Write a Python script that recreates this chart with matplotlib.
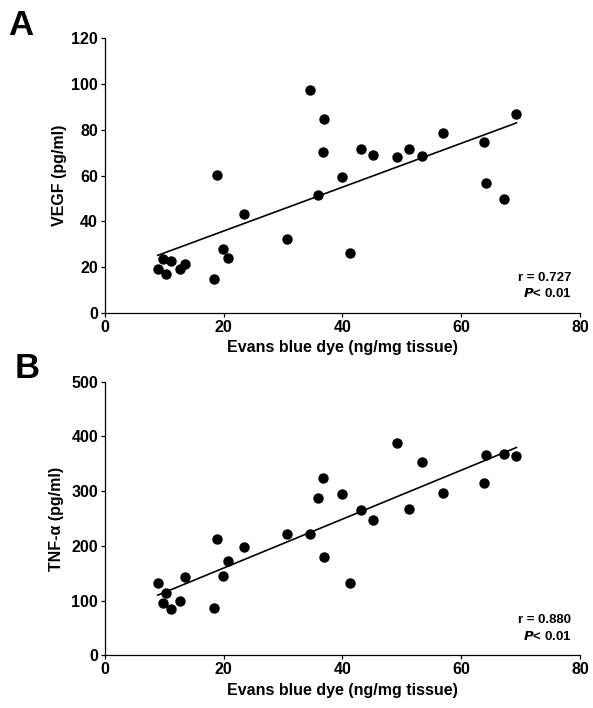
import numpy as np
import matplotlib
matplotlib.use("Agg")
import matplotlib.pyplot as plt

plt.rcParams.update({
    "font.family": "Liberation Sans",
    "font.weight": "bold",
    "font.size": 11.5,
    "axes.linewidth": 0.9,
})

# Evans blue dye (ng/mg tissue), same animals in both panels
evans = [8.9, 9.7, 10.3, 11.1, 12.6, 13.5, 18.3, 18.8, 19.8, 20.7,
         23.5, 30.7, 34.5, 35.8, 36.7, 36.9, 39.9, 41.2, 43.2, 45.1,
         49.2, 51.2, 53.4, 56.9, 63.9, 64.2, 67.2, 69.3]

# Panel A: VEGF (pg/ml) at each Evans blue value
vegf = [19.4, 23.5, 17.2, 22.7, 19.1, 21.3, 15.0, 60.3, 27.8, 24.2,
        43.4, 32.4, 97.5, 51.5, 70.3, 84.5, 59.5, 26.1, 71.4, 69.1,
        68.1, 71.4, 68.5, 78.7, 74.6, 56.7, 49.6, 86.9]

# Panel B: TNF-alpha (pg/ml)
tnf = [131.5, 95.6, 113.3, 84.0, 99.3, 142.5, 87.1, 212.5, 144.3, 171.7,
       197.3, 221.7, 221.7, 288.0, 324.0, 179.0, 295.4, 132.8, 265.0, 246.6,
       388.0, 268.0, 352.6, 297.0, 315.5, 366.0, 367.0, 364.8]

panels = [
    ("A", vegf, "VEGF (pg/ml)", 120, 20, "r = 0.727", 3),
    ("B", tnf, "TNF-α (pg/ml)", 500, 100, "r = 0.880", 5),
]

fig = plt.figure(figsize=(5.93, 7.08), dpi=100)
rects = [[0.177, 0.558, 0.801, 0.388], [0.177, 0.0744, 0.801, 0.3865]]
letter_xy = [(0.013, 0.964), (0.025, 0.480)]

x = np.array(evans)
for rect, (lx, ly), (letter, yvals, ylab, ymax, ystep, rtxt, lpad) in zip(rects, letter_xy, panels):
    ax = fig.add_axes(rect)
    y = np.array(yvals)
    ax.plot(x, y, "o", color="black", markersize=7.5, markeredgewidth=0)
    slope, icpt = np.polyfit(x, y, 1)
    xl = np.array([x.min(), x.max()])
    ax.plot(xl, slope * xl + icpt, color="black", linewidth=1.2)

    ax.set_xlim(0, 80)
    ax.set_ylim(0, ymax)
    ax.set_xticks(range(0, 81, 20))
    ax.set_yticks(range(0, ymax + 1, ystep))
    ax.spines["top"].set_visible(False)
    ax.spines["right"].set_visible(False)
    ax.tick_params(direction="out", length=3, width=0.9, pad=2)
    ax.set_xlabel("Evans blue dye (ng/mg tissue)", fontweight="bold", labelpad=4)
    ax.set_ylabel(ylab, fontweight="bold", labelpad=lpad)

    ax.text(0.982, 0.128, rtxt, transform=ax.transAxes, ha="right",
            va="center", fontsize=9.5)
    ax.text(0.982, 0.07, r"$\mathbf{\it{P}}$< 0.01", transform=ax.transAxes,
            ha="right", va="center", fontsize=9.5)
    fig.text(lx, ly, letter, fontsize=25, fontweight="bold", va="center")

fig.savefig("out.png", dpi=100)
